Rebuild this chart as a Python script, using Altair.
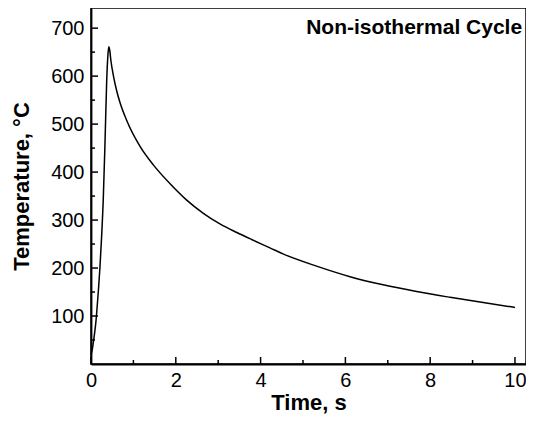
import altair as alt
import pandas as pd

time_s = [0.00, 0.03, 0.055, 0.09, 0.12, 0.15, 0.18, 0.21, 0.25, 0.29, 0.33, 0.37,
          0.40, 0.42, 0.44, 0.47, 0.53, 0.61, 0.68, 0.84, 1.16, 1.47, 1.86, 2.25,
          2.65, 3.04, 3.44, 3.8, 4.22, 4.54, 5.32, 6.11, 6.89, 7.68, 8.47, 9.25, 10.0]
temp_c = [20, 30, 45, 68, 92, 125, 160, 200, 265, 345, 460, 590,
          645, 661, 655, 632, 600, 568, 546, 508, 453, 415, 376, 342,
          314, 292, 274, 259, 242, 229, 204, 182, 165, 151, 139, 128, 118]

x_major = [0, 2, 4, 6, 8, 10]
x_minor = [1, 3, 5, 7, 9]
y_major = [100, 200, 300, 400, 500, 600, 700]
y_minor = [50, 150, 250, 350, 450, 550, 650]

df = pd.DataFrame({"t": time_s, "T": temp_c})

FONT = "Liberation Sans"
W, H = 435, 356
MAJOR, MINOR = 7, 4
xs = alt.Scale(domain=[0, 10.26], nice=False, zero=False)
ys = alt.Scale(domain=[0, 742], nice=False, zero=False)

main = alt.Chart(df).mark_line(
    color="black", strokeWidth=1.5, interpolate="monotone"
).encode(
    x=alt.X("t:Q", scale=xs, axis=alt.Axis(
        values=x_major, orient="bottom", title="Time, s", format="d",
        ticks=False, labelPadding=6, titlePadding=2, labelFlush=False,
        labelFont=FONT, labelFontSize=20, titleFont=FONT, titleFontSize=22,
        titleFontWeight="bold", grid=False)),
    y=alt.Y("T:Q", scale=ys, axis=alt.Axis(
        values=y_major, orient="left", title="Temperature, \u00b0C", format="d",
        ticks=False, labelPadding=7, titlePadding=17, labelFlush=False,
        labelFont=FONT, labelFontSize=20, titleFont=FONT, titleFontSize=22,
        titleFontWeight="bold", grid=False)),
)


def xticks(vals, size):
    return alt.Chart(pd.DataFrame({"t": vals})).mark_rule(
        color="black", strokeWidth=1.5
    ).encode(
        x=alt.X("t:Q", scale=xs),
        y=alt.value(H),
        y2=alt.value(H - size),
    )


def yticks(vals, size):
    return alt.Chart(pd.DataFrame({"T": vals})).mark_rule(
        color="black", strokeWidth=1.5
    ).encode(
        y=alt.Y("T:Q", scale=ys),
        x=alt.value(0),
        x2=alt.value(size),
    )


chart = alt.layer(
    main,
    xticks(x_major, MAJOR), xticks(x_minor, MINOR),
    yticks(y_major, MAJOR), yticks(y_minor, MINOR),
).properties(
    width=W,
    height=H,
    autosize=alt.AutoSizeParams(type="none"),
    padding={"left": 83, "top": 0, "right": 0, "bottom": 51},
    title=alt.TitleParams(
        "Non-isothermal Cycle", anchor="end", orient="top", offset=0,
        baseline="alphabetic", dy=47, dx=-4, font=FONT, fontSize=21,
        fontWeight="bold", color="black"),
).configure_view(
    stroke="black", strokeWidth=1.5
).configure_axis(
    domainColor="black", domainWidth=1.8, labelColor="black", titleColor="black"
)

chart.save("out.html", embed_options={"renderer": "svg", "actions": False})
